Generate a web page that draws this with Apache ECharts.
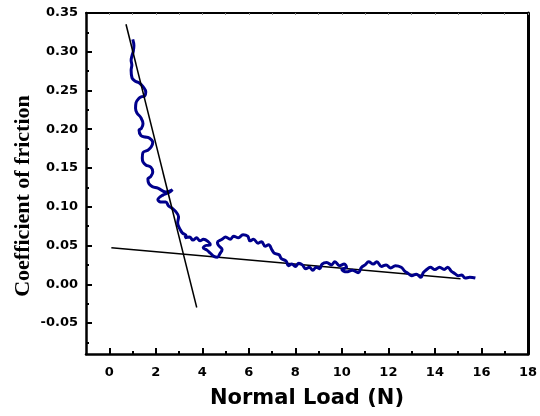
<!DOCTYPE html>
<html>
<head>
<meta charset="utf-8">
<script src="https://cdn.jsdelivr.net/npm/echarts@6/dist/echarts.min.js"></script>
<style>html,body{margin:0;padding:0;background:#fff}#c{width:540px;height:416px}</style>
</head>
<body>
<div id="c"></div>
<script>
const xTicks = [0, 2, 4, 6, 8, 10, 12, 14, 16, 18];
const xMinor = [1, 3, 5, 7, 9, 11, 13, 15, 17];
const yTicks = [-0.05, 0, 0.05, 0.10, 0.15, 0.20, 0.25, 0.30, 0.35];
const yMinor = [-0.075, -0.025, 0.025, 0.075, 0.125, 0.175, 0.225, 0.275, 0.325];

const loadN = [1.01,1.06,1.03,0.98,0.94,0.97,0.94,0.98,1.12,1.28,1.45,1.57,1.52,1.40,1.28,1.15,1.13,1.19,1.36,1.45,1.38,1.28,1.36,1.55,1.70,1.87,1.80,1.66,1.45,1.42,1.45,1.57,1.79,1.87,1.78,1.66,1.70,1.85,2.09,2.43,2.72,2.55,2.30,2.09,2.25,2.43,2.55,2.70,2.85,2.98,2.94,3.06,3.15,3.30,3.25,3.45,3.60,3.75,3.90,4.05,4.25,4.34,4.15,4.04,4.20,4.35,4.50,4.65,4.75,4.85,4.70,4.65,4.85,5.00,5.20,5.35,5.55,5.75,5.95,6.05,6.20,6.40,6.55,6.70,6.85,7.00,7.10,7.30,7.40,7.60,7.70,7.85,8.00,8.15,8.30,8.45,8.60,8.75,8.90,9.05,9.15,9.35,9.55,9.70,9.90,10.10,10.20,10.00,10.20,10.45,10.70,10.85,11.00,11.15,11.35,11.50,11.70,11.90,12.10,12.30,12.55,12.70,12.85,13.00,13.20,13.40,13.50,13.65,13.80,14.00,14.20,14.40,14.55,14.70,14.85,15.00,15.15,15.30,15.50,15.74];
const cof = [0.316,0.308,0.300,0.295,0.289,0.283,0.276,0.266,0.262,0.260,0.255,0.248,0.243,0.242,0.240,0.234,0.227,0.221,0.215,0.207,0.201,0.199,0.192,0.190,0.189,0.183,0.177,0.173,0.170,0.163,0.158,0.154,0.151,0.145,0.139,0.136,0.130,0.126,0.124,0.119,0.122,0.118,0.115,0.109,0.106,0.106,0.101,0.098,0.094,0.087,0.079,0.070,0.066,0.063,0.060,0.061,0.057,0.060,0.056,0.058,0.055,0.051,0.050,0.047,0.044,0.040,0.036,0.035,0.039,0.045,0.050,0.054,0.058,0.061,0.058,0.062,0.060,0.064,0.062,0.056,0.058,0.053,0.055,0.049,0.051,0.044,0.040,0.038,0.033,0.030,0.024,0.026,0.023,0.027,0.025,0.020,0.022,0.018,0.022,0.020,0.026,0.028,0.025,0.029,0.024,0.026,0.022,0.019,0.016,0.018,0.015,0.022,0.025,0.029,0.026,0.029,0.023,0.025,0.021,0.024,0.022,0.017,0.014,0.011,0.013,0.009,0.015,0.019,0.022,0.019,0.022,0.019,0.022,0.017,0.014,0.011,0.012,0.008,0.009,0.008];

const fitSteepX = [0.72, 3.76];
const fitSteepY = [0.3355, -0.030];
const fitFlatX = [0.09, 15.1];
const fitFlatY = [0.047, 0.007];

const zip = (a, b) => a.map((v, i) => [v, b[i]]);
const lblFont = {fontFamily: 'DejaVu Sans', fontWeight: 'bold', fontSize: 13, color: '#000'};

const chart = echarts.init(document.getElementById('c'), null, {renderer: 'canvas'});
chart.setOption({
  animation: false,
  backgroundColor: '#fff',
  grid: {left: 86, right: 9, top: 13, bottom: 62},
  xAxis: [
    {type: 'value', min: -1, max: 18, position: 'bottom',
     name: 'Normal Load (N)', nameLocation: 'middle', nameGap: 34,
     nameTextStyle: {fontFamily: 'DejaVu Sans', fontWeight: 'bold', fontSize: 21, color: '#000'},
     axisLine: {onZero: false, lineStyle: {color: '#000', width: 2.5}},
     axisTick: {inside: true, length: 6, customValues: xTicks, lineStyle: {color: '#000', width: 2}},
     axisLabel: Object.assign({customValues: xTicks, margin: 12}, lblFont),
     splitLine: {show: false}},
    {type: 'value', min: -1, max: 18, position: 'bottom',
     axisLine: {show: false, onZero: false},
     axisTick: {inside: true, length: 3, customValues: xMinor, lineStyle: {color: '#000', width: 2}},
     axisLabel: {show: false}, splitLine: {show: false}},
    {type: 'value', min: -1, max: 18, position: 'top',
     axisLine: {onZero: false, lineStyle: {color: '#000', width: 2}},
     axisTick: {inside: true, length: 2, customValues: xTicks.concat(xMinor), lineStyle: {color: '#888', width: 1}},
     axisLabel: {show: false}, splitLine: {show: false}}
  ],
  yAxis: [
    {type: 'value', min: -0.09, max: 0.35, position: 'left',
     axisLine: {onZero: false, lineStyle: {color: '#000', width: 2.5}},
     axisTick: {inside: true, length: 6, customValues: yTicks, lineStyle: {color: '#000', width: 2}},
     axisLabel: Object.assign({customValues: yTicks, margin: 8, formatter: v => v.toFixed(2)}, lblFont),
     splitLine: {show: false}},
    {type: 'value', min: -0.09, max: 0.35, position: 'left',
     axisLine: {show: false, onZero: false},
     axisTick: {inside: true, length: 3, customValues: yMinor, lineStyle: {color: '#000', width: 2}},
     axisLabel: {show: false}, splitLine: {show: false}},
    {type: 'value', min: -0.09, max: 0.35, position: 'right',
     axisLine: {onZero: false, lineStyle: {color: '#000', width: 3}},
     axisTick: {show: false},
     axisLabel: {show: false}, splitLine: {show: false}}
  ],
  graphic: [{
    type: 'text', x: 23, y: 196, rotation: Math.PI / 2,
    style: {text: 'Coefficient of friction', fontFamily: 'Liberation Serif', fontWeight: 'bold', fontSize: 22,
            fill: '#000', align: 'center', verticalAlign: 'middle'}
  }],
  series: [
    {type: 'line', xAxisIndex: 0, yAxisIndex: 0, data: zip(loadN, cof), showSymbol: false, smooth: 0.4,
     lineStyle: {color: '#00008c', width: 3}, z: 3},
    {type: 'line', xAxisIndex: 0, yAxisIndex: 0, data: zip(fitSteepX, fitSteepY), showSymbol: false,
     lineStyle: {color: '#000', width: 1.5}, z: 4},
    {type: 'line', xAxisIndex: 0, yAxisIndex: 0, data: zip(fitFlatX, fitFlatY), showSymbol: false,
     lineStyle: {color: '#000', width: 1.5}, z: 2}
  ]
});
</script>
</body>
</html>
